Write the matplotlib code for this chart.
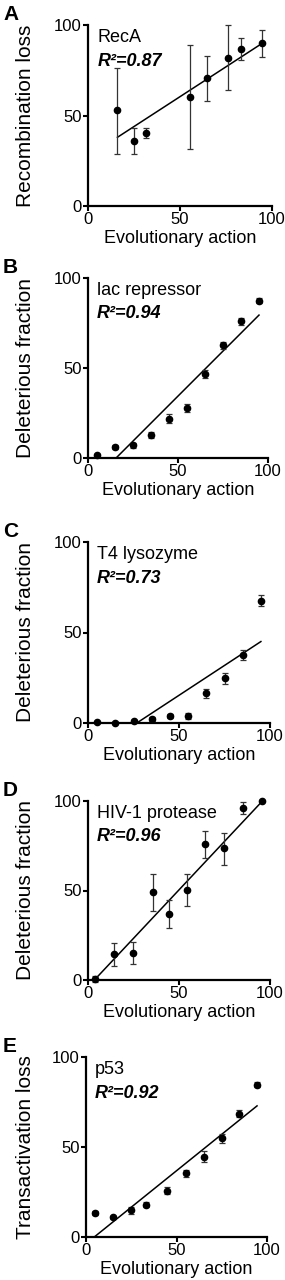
import matplotlib
matplotlib.use("Agg")
import matplotlib.pyplot as plt
import numpy as np

plt.rcParams["font.family"] = ["Liberation Sans", "DejaVu Sans"]

# panel data (x = evolutionary action bin, y = % loss)
recA_x = [16, 25, 31.5, 55.5, 64.5, 76, 83, 94.5]
recA_y = [53, 36, 40.5, 60, 70.5, 82, 87, 90]
recA_lo = [24, 7.5, 3, 28.5, 12.5, 18, 6.5, 7.5]
recA_hi = [23, 7, 2.5, 29, 12.5, 18, 6, 7.5]
recA_fit = (0.66, 27.4)

lac_x = [5, 15, 25, 35, 45, 55, 65, 75, 85, 95]
lac_y = [1.5, 6, 7, 12.8, 21.7, 27.8, 46.7, 62.6, 76, 87.4]
lac_err = [0.8, 1, 1.5, 1.8, 2.5, 2, 2.2, 2, 2, 1.5]
lac_fit = (1.0, -15.6)

t4_x = [5, 15, 25, 35, 45, 55, 65, 75, 85, 95]
t4_y = [0.4, 0, 1.1, 2.2, 3.7, 3.9, 16.5, 24.8, 37.6, 67.5]
t4_err = [0.3, 0.3, 0.5, 1, 1, 1.5, 2.5, 3, 3, 3]
t4_fit = (0.66, -17.7)

hiv_x = [4, 14.5, 24.5, 35.5, 44.5, 54.5, 64.5, 74.5, 85, 95.5]
hiv_y = [0.5, 14.3, 15.3, 49.2, 37, 50.5, 76, 73.7, 96.3, 100]
hiv_lo = [1.5, 6.3, 6.3, 10.7, 8.1, 9.2, 8, 9.5, 3.6, 0]
hiv_hi = [1.5, 6.2, 6.1, 9.8, 7.7, 8.5, 7.4, 8.6, 3.3, 0]
hiv_fit = (1.083, -3.8)

p53_x = [5, 15, 25, 33, 45, 55, 65, 75, 84.5, 94.5]
p53_y = [13.3, 10.9, 14.8, 17.9, 25.8, 35.4, 44.6, 54.8, 68.6, 84.7]
p53_err = [1, 1, 2, 1.5, 2, 2, 3, 2.5, 2, 1.5]
p53_fit = (0.81, -3.7)

W, H = 285, 1280
fig = plt.figure(figsize=(W / 100, H / 100), dpi=100)


def add_panel(box, letter, name, r2, ylabel, x, y, lo, hi, fit, fit_x0=None):
    l, t, r, b = box
    ax = fig.add_axes([l / W, 1 - b / H, (r - l) / W, (b - t) / H])
    ax.errorbar(x, y, yerr=[lo, hi], fmt="o", color="black", ms=4.5,
                ecolor="#333333", elinewidth=0.9, capsize=2.5, capthick=0.9,
                clip_on=False, zorder=3)
    x0 = fit_x0 if fit_x0 is not None else x[0]
    fx = np.array([x0, x[-1]])
    ax.plot(fx, fit[0] * fx + fit[1], color="black", lw=1.1)

    ax.set_xlim(0, 100)
    ax.set_ylim(0, 100)
    ax.set_xticks([0, 50, 100])
    ax.set_yticks([0, 50, 100])
    ax.tick_params(labelsize=12, length=3.5, width=1.5, pad=1)
    for s in ["top", "right"]:
        ax.spines[s].set_visible(False)
    for s in ["left", "bottom"]:
        ax.spines[s].set_linewidth(1.6)

    ax.set_xlabel("Evolutionary action", fontsize=13, labelpad=2)
    ax.set_ylabel(ylabel, fontsize=15, labelpad=2)
    ax.yaxis.set_label_coords(-(l - 35) / (r - l), 0.5)

    ax.text(0.05, 0.93, name, transform=ax.transAxes, fontsize=13, va="center")
    ax.text(0.05, 0.80, "R\u00b2=0." + r2, transform=ax.transAxes,
            fontsize=13, va="center", fontweight="bold", fontstyle="italic")
    fig.text(3 / W, 1 - (t - 20) / H, letter, fontsize=15, fontweight="bold", va="top")
    return ax


add_panel((88, 25, 272, 206), "A", "RecA", "87", "Recombination loss",
          recA_x, recA_y, recA_lo, recA_hi, recA_fit)
add_panel((88, 278, 268, 458), "B", "lac repressor", "94", "Deleterious fraction",
          lac_x, lac_y, lac_err, lac_err, lac_fit)
add_panel((88, 542, 270, 723), "C", "T4 lysozyme", "73", "Deleterious fraction",
          t4_x, t4_y, t4_err, t4_err, t4_fit)
add_panel((88, 801, 270, 980), "D", "HIV-1 protease", "96", "Deleterious fraction",
          hiv_x, hiv_y, hiv_lo, hiv_hi, hiv_fit, fit_x0=3)
add_panel((86, 1057, 267, 1237), "E", "p53", "92", "Transactivation loss",
          p53_x, p53_y, p53_err, p53_err, p53_fit)

plt.savefig("out.png", dpi=100)
